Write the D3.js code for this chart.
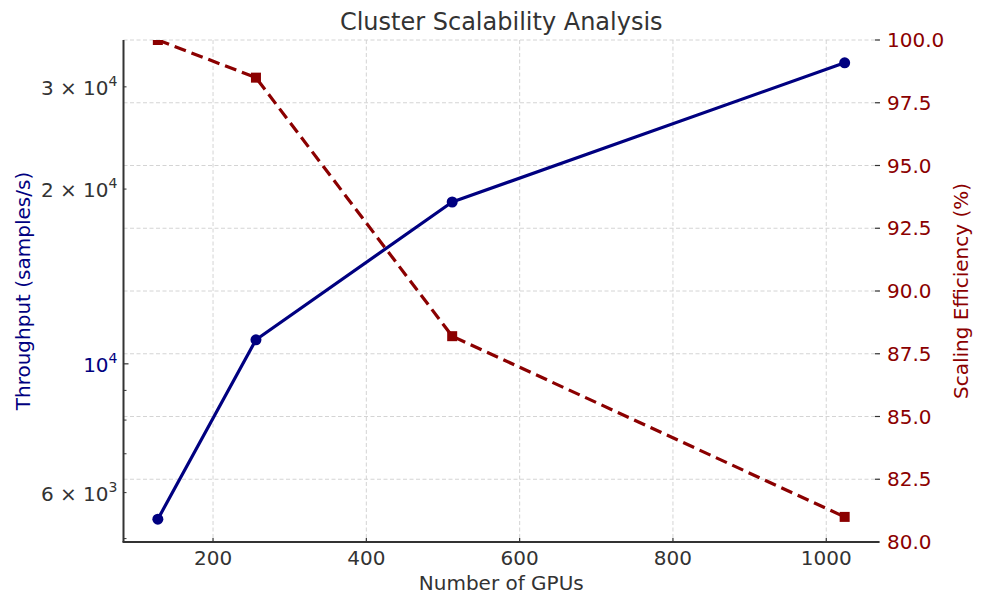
<!DOCTYPE html>
<html>
<head>
<meta charset="utf-8">
<script src="https://cdn.jsdelivr.net/npm/d3@7"></script>
<style>
  body { margin: 0; background: #fff; }
  svg { font-family: "DejaVu Sans", sans-serif; }
</style>
</head>
<body>
<svg id="chart" width="984" height="599"></svg>
<script>
const gpus = [128, 256, 512, 1024],
throughput = [5400, 11000, 19000, 33000],
efficiency = [100.0, 98.5, 88.2, 81.0],
xTicks = [200, 400, 600, 800, 1000],
effTicks = [80, 82.5, 85, 87.5, 90, 92.5, 95, 97.5, 100],
tpMajor = [10000],
tpMinor = [5000, 6000, 7000, 8000, 9000, 20000, 30000],
tpLabels = [[6000, '6', '3'], [10000, null, '4'], [20000, '2', '4'], [30000, '3', '4']],
margin = {top: 40, right: 105, bottom: 57, left: 123.5},
width = 984 - margin.left - margin.right,
height = 599 - margin.top - margin.bottom;

const navy = '#000080', red = '#8b0000', ink = '#333';

// matplotlib style 5% padding
const pad = (lo, hi) => [lo - (hi - lo) * 0.05, hi + (hi - lo) * 0.05];

const x = d3.scaleLinear()
.domain(pad(d3.min(gpus), d3.max(gpus)))
.range([0, width]);

const logExt = pad(Math.log10(d3.min(throughput)), Math.log10(d3.max(throughput)));
const yL = d3.scaleLog()
.domain([10 ** logExt[0], 10 ** logExt[1]])
.range([height, 0]);

const yR = d3.scaleLinear()
.domain([80, 100])
.range([height, 0]);

const svg = d3.select('#chart');
const chart = svg.append('g')
.attr('transform', `translate(${margin.left}, ${margin.top})`);

svg.append('defs').append('clipPath')
.attr('id', 'plot-clip')
.append('rect')
.attr('width', width)
.attr('height', height);

// grid
const grid = chart.append('g')
.attr('stroke', '#cfcfcf')
.attr('stroke-width', 0.9)
.attr('stroke-dasharray', '4,2.5');

grid.selectAll('.vgrid')
.data(xTicks)
.enter().append('line')
.attr('x1', (d) => x(d)).attr('x2', (d) => x(d))
.attr('y1', 0).attr('y2', height);

grid.selectAll('.hgrid')
.data(effTicks)
.enter().append('line')
.attr('x1', 0).attr('x2', width)
.attr('y1', (d) => yR(d)).attr('y2', (d) => yR(d));

// throughput series
const plot = chart.append('g').attr('clip-path', 'url(#plot-clip)');

plot.append('path')
.datum(gpus.map((g, i) => [g, throughput[i]]))
.attr('fill', 'none')
.attr('stroke', navy)
.attr('stroke-width', 3.2)
.attr('stroke-linejoin', 'round')
.attr('d', d3.line().x((d) => x(d[0])).y((d) => yL(d[1])));

plot.selectAll('.dot')
.data(gpus)
.enter().append('circle')
.attr('cx', (d) => x(d))
.attr('cy', (d, i) => yL(throughput[i]))
.attr('r', 5.5)
.attr('fill', navy);

// efficiency series
plot.append('path')
.datum(gpus.map((g, i) => [g, efficiency[i]]))
.attr('fill', 'none')
.attr('stroke', red)
.attr('stroke-width', 3.2)
.attr('stroke-dasharray', '12,6')
.attr('d', d3.line().x((d) => x(d[0])).y((d) => yR(d[1])));

plot.selectAll('.sq')
.data(gpus)
.enter().append('rect')
.attr('x', (d) => x(d) - 5)
.attr('y', (d, i) => yR(efficiency[i]) - 5)
.attr('width', 10)
.attr('height', 10)
.attr('fill', red);

// spines
chart.append('line')
.attr('x1', 0).attr('x2', 0).attr('y1', 0).attr('y2', height)
.attr('stroke', ink).attr('stroke-width', 2);
chart.append('line')
.attr('x1', -1).attr('x2', width).attr('y1', height).attr('y2', height)
.attr('stroke', ink).attr('stroke-width', 2);

// x axis
const xAxis = chart.append('g');
xAxis.selectAll('.xt')
.data(xTicks)
.enter().append('line')
.attr('x1', (d) => x(d)).attr('x2', (d) => x(d))
.attr('y1', height).attr('y2', height - 4)
.attr('stroke', ink).attr('stroke-width', 1.2);
xAxis.selectAll('.xl')
.data(xTicks)
.enter().append('text')
.attr('x', (d) => x(d))
.attr('y', height + 23)
.attr('text-anchor', 'middle')
.attr('font-size', 20)
.attr('fill', ink)
.text((d) => d);

// left axis (log)
const lAxis = chart.append('g');
lAxis.selectAll('.lmaj')
.data(tpMajor)
.enter().append('line')
.attr('x1', 0).attr('x2', 5)
.attr('y1', (d) => yL(d)).attr('y2', (d) => yL(d))
.attr('stroke', ink).attr('stroke-width', 1.2);
lAxis.selectAll('.lmin')
.data(tpMinor.filter((d) => d >= yL.domain()[0] && d <= yL.domain()[1]))
.enter().append('line')
.attr('x1', 0).attr('x2', 3)
.attr('y1', (d) => yL(d)).attr('y2', (d) => yL(d))
.attr('stroke', ink).attr('stroke-width', 1);

const lLab = lAxis.selectAll('.ll')
.data(tpLabels)
.enter().append('text')
.attr('x', -6)
.attr('y', (d) => yL(d[0]) + 8)
.attr('text-anchor', 'end')
.attr('font-size', 20)
.attr('fill', (d) => d[1] ? ink : navy);
lLab.append('tspan')
.text((d) => d[1] ? `${d[1]} × 10` : '10');
lLab.append('tspan')
.attr('font-size', 14)
.attr('dy', -9)
.text((d) => d[2]);

// right axis
const rAxis = chart.append('g');
rAxis.selectAll('.rt')
.data(effTicks)
.enter().append('line')
.attr('x1', width - 4).attr('x2', width + 1)
.attr('y1', (d) => yR(d)).attr('y2', (d) => yR(d))
.attr('stroke', ink).attr('stroke-width', 1.2);
rAxis.selectAll('.rl')
.data(effTicks)
.enter().append('text')
.attr('x', width + 8)
.attr('y', (d) => yR(d) + 7)
.attr('font-size', 20)
.attr('fill', red)
.text((d) => d.toFixed(1));

// titles
svg.append('text')
.attr('x', margin.left + width / 2)
.attr('y', 30)
.attr('text-anchor', 'middle')
.attr('font-size', 24)
.attr('fill', ink)
.text('Cluster Scalability Analysis');

svg.append('text')
.attr('x', margin.left + width / 2)
.attr('y', 590)
.attr('text-anchor', 'middle')
.attr('font-size', 20)
.attr('fill', ink)
.text('Number of GPUs');

svg.append('text')
.attr('transform', `translate(30, ${margin.top + height / 2}) rotate(-90)`)
.attr('text-anchor', 'middle')
.attr('font-size', 20)
.attr('fill', navy)
.text('Throughput (samples/s)');

svg.append('text')
.attr('transform', `translate(968, ${margin.top + height / 2}) rotate(-90)`)
.attr('text-anchor', 'middle')
.attr('font-size', 20)
.attr('fill', red)
.text('Scaling Efficiency (%)');
</script>
</body>
</html>
